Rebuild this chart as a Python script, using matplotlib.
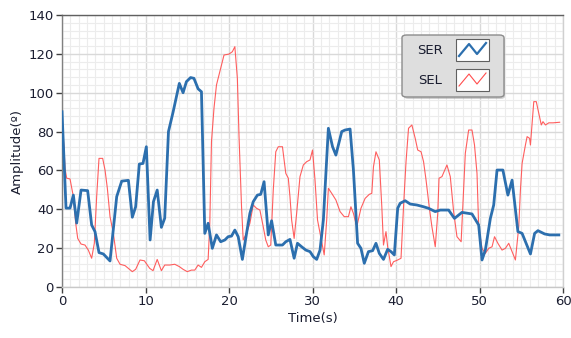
import matplotlib.pyplot as plt
from matplotlib.patches import FancyBboxPatch, Rectangle
from matplotlib.lines import Line2D
from matplotlib.ticker import MultipleLocator

# SER (blue)
ser_t = [0.0, 0.48, 0.96, 1.36, 1.76, 2.28, 3.07, 3.55, 3.95, 4.43, 4.95, 5.75,
         6.55, 7.15, 7.95, 8.42, 8.82, 9.26, 9.7, 10.1, 10.55, 10.95, 11.4, 11.9,
         12.3, 12.75, 13.3, 14.05, 14.5, 14.9, 15.4, 15.8, 16.3, 16.7, 17.1, 17.5,
         18.0, 18.5, 19.0, 19.5, 19.9, 20.3, 20.7, 21.1, 21.6, 22.1, 22.5, 22.9,
         23.4, 23.8, 24.2, 24.7, 25.1, 25.6, 26.4, 26.8, 27.3, 27.8, 28.2, 28.7,
         29.2, 29.7, 30.1, 30.5, 30.9, 31.3, 31.9, 32.4, 32.8, 33.5, 33.9, 34.5,
         34.9, 35.4, 35.8, 36.2, 36.7, 37.2, 37.6, 38.0, 38.5, 39.0, 39.4, 39.8,
         40.2, 40.5, 41.1, 41.7, 42.5, 43.3, 43.9, 44.7, 45.3, 46.3, 47.0, 47.9,
         49.1, 49.9, 50.3, 50.7, 51.3, 51.7, 52.1, 52.8, 53.4, 53.9, 54.6, 55.1,
         56.1, 56.6, 57.0, 57.8, 58.4, 59.5]
ser_v = [90.2, 40.6, 40.6, 47.3, 32.9, 49.9, 49.6, 31.9, 28.5, 17.7, 17.0, 13.4,
         46.5, 54.5, 54.9, 35.9, 41.3, 63.3, 63.6, 72.2, 24.2, 43.9, 49.9, 30.7,
         35.4, 80.0, 90.0, 104.8, 100.0, 105.7, 107.8, 107.4, 102.0, 100.5, 27.6, 32.8,
         19.9, 26.8, 23.3, 24.2, 25.9, 26.2, 29.3, 25.9, 14.2, 27.6, 37.9, 43.9,
         47.3, 47.7, 54.2, 26.8, 34.1, 21.6, 21.6, 23.3, 24.5, 14.8, 22.5, 20.7,
         19.0, 18.2, 15.6, 14.2, 19.0, 34.5, 81.7, 72.2, 67.9, 80.0, 80.8, 81.3,
         60.2, 22.5, 19.9, 12.2, 18.2, 18.7, 22.5, 17.3, 14.2, 19.4, 18.2, 16.5,
         40.5, 43.1, 44.4, 42.7, 42.2, 41.3, 40.5, 38.8, 39.6, 39.6, 35.3, 38.4,
         37.6, 31.9, 13.9, 19.0, 35.3, 42.2, 60.2, 60.2, 47.3, 55.0, 28.5, 27.6,
         17.0, 27.6, 29.0, 27.3, 26.8, 26.8]

# SEL (red)
sel_t = [0.0, 0.24, 0.36, 0.56, 0.96, 1.36, 1.64, 1.88, 2.28, 2.75, 3.15, 3.55,
         3.87, 4.15, 4.43, 4.87, 5.15, 5.43, 5.75, 6.15, 6.55, 6.95, 7.55, 7.95,
         8.42, 8.82, 9.34, 9.86, 10.5, 10.9, 11.4, 11.9, 12.3, 12.9, 13.5, 14.05,
         14.5, 15.0, 15.5, 15.9, 16.3, 16.7, 17.1, 17.5, 17.7, 17.9, 18.2, 18.5,
         18.9, 19.4, 20.0, 20.4, 20.7, 21.0, 21.2, 21.5, 21.7, 22.1, 22.5, 22.9,
         23.3, 23.7, 24.1, 24.4, 24.7, 25.0, 25.3, 25.6, 25.9, 26.4, 26.8, 27.1,
         27.3, 27.5, 27.8, 28.1, 28.5, 28.9, 29.3, 29.7, 30.0, 30.3, 30.6, 31.1,
         31.4, 31.7, 31.9, 32.3, 32.8, 33.3, 33.8, 34.3, 34.6, 34.9, 35.3, 35.8,
         36.3, 36.8, 37.1, 37.3, 37.6, 38.0, 38.3, 38.5, 38.8, 39.0, 39.4, 39.7,
         40.2, 40.6, 40.9, 41.2, 41.5, 41.9, 42.3, 42.6, 43.0, 43.3, 43.6, 44.0,
         44.3, 44.7, 45.0, 45.15, 45.5, 46.1, 46.5, 46.9, 47.3, 47.8, 48.1, 48.3,
         48.7, 49.1, 49.4, 49.7, 49.9, 50.3, 50.7, 51.1, 51.5, 51.8, 52.2, 52.7,
         53.1, 53.5, 53.9, 54.3, 54.7, 54.9, 55.1, 55.5, 55.7, 56.0, 56.1, 56.3,
         56.5, 56.8, 57.1, 57.4, 57.6, 57.9, 58.3, 58.8, 59.6]
sel_v = [85.0, 72.0, 61.0, 56.0, 55.6, 46.5, 32.8, 25.0, 22.1, 21.6, 19.0, 14.8,
         22.5, 46.5, 66.2, 66.2, 60.2, 50.8, 36.2, 27.6, 14.8, 11.7, 11.0, 9.6,
         7.9, 9.1, 13.9, 13.5, 9.6, 8.4, 14.2, 8.4, 11.3, 11.3, 11.7, 10.5,
         9.1, 7.9, 8.7, 8.7, 11.3, 10.1, 13.0, 14.2, 32.8, 74.8, 92.0, 104.0,
         110.8, 119.4, 119.9, 121.1, 123.7, 107.4, 77.4, 41.3, 24.2, 27.6, 32.8, 42.2,
         40.5, 39.6, 31.0, 24.2, 20.7, 21.6, 49.9, 69.6, 72.2, 72.2, 58.5, 56.0,
         46.5, 34.5, 25.0, 37.9, 56.8, 62.8, 64.5, 65.4, 70.5, 55.0, 34.5, 23.3,
         16.5, 34.5, 50.8, 48.2, 44.8, 38.8, 36.2, 36.2, 41.3, 37.9, 31.0, 40.5,
         45.6, 47.7, 48.2, 61.9, 69.6, 65.4, 41.3, 21.6, 28.5, 20.7, 10.5, 13.0,
         13.9, 14.8, 41.3, 64.5, 81.7, 83.4, 76.5, 70.5, 69.6, 64.5, 55.0, 40.5,
         31.0, 20.7, 37.9, 56.0, 56.8, 62.8, 56.8, 38.8, 25.9, 23.3, 49.9, 68.8,
         80.8, 80.8, 73.1, 58.5, 31.0, 19.9, 17.3, 19.9, 20.7, 25.9, 22.5, 19.0,
         19.9, 22.5, 18.2, 13.9, 31.0, 49.9, 63.6, 73.1, 77.4, 76.5, 73.1, 84.2,
         95.4, 95.4, 89.4, 83.4, 85.1, 83.4, 84.5, 84.5, 84.8]

legend_names = ['SER', 'SEL']
ser_color = '#2c6fae'
sel_color = '#ff4d4d'
text_color = '#1a1d30'
fs = 9.5

fig = plt.figure(figsize=(5.71, 3.38), dpi=100)
ax = fig.add_axes([0.1086, 0.1509, 0.8774, 0.8047])

ax.plot(sel_t, sel_v, color=sel_color, lw=0.8, alpha=0.9, zorder=3)
ax.plot(ser_t, ser_v, color=ser_color, lw=2.0, zorder=4)

ax.set_xlim(0, 60)
ax.set_ylim(0, 140)
ax.xaxis.set_major_locator(MultipleLocator(10))
ax.xaxis.set_minor_locator(MultipleLocator(1))
ax.yaxis.set_major_locator(MultipleLocator(20))
ax.yaxis.set_minor_locator(MultipleLocator(4))
ax.grid(which='major', color='#d9d9d9', lw=1.0, zorder=0)
ax.grid(which='minor', color='#ececec', lw=0.8, zorder=0)
ax.set_axisbelow(True)

ax.tick_params(which='major', direction='out', length=4, width=1, color='#404040',
               labelsize=fs, labelcolor=text_color, pad=2)
ax.tick_params(which='minor', length=0)

ax.spines['left'].set_color('#808080')
ax.spines['bottom'].set_color('#c8c8c8')
ax.spines['top'].set_color('#606060')
ax.spines['right'].set_color('#d0d0d0')
for s in ax.spines.values():
    s.set_linewidth(1.0)

ax.set_xlabel('Time(s)', fontsize=fs, color=text_color, labelpad=3)
ax.set_ylabel('Amplitude(º)', fontsize=fs, color=text_color, labelpad=3)

# LabVIEW style legend box, placed in pixel-like figure coords
W, H = 571.0, 338.0
def fx(px):
    return px / W
def fy(py):
    return 1 - py / H

shadow = FancyBboxPatch((fx(404), fy(99)), fx(505) - fx(404), fy(37) - fy(99),
                        boxstyle='round,pad=0,rounding_size=0.008',
                        transform=fig.transFigure, fc='#a0a0a0', ec='none',
                        alpha=0.5, zorder=5)
fig.patches.append(shadow)
box = FancyBboxPatch((fx(402), fy(97)), fx(504) - fx(402), fy(35) - fy(97),
                     boxstyle='round,pad=0,rounding_size=0.008',
                     transform=fig.transFigure, fc='#dedede', ec='#8c8c8c',
                     lw=1.0, zorder=6)
fig.patches.append(box)

for i, (name, col, lw) in enumerate(zip(legend_names, [ser_color, sel_color], [1.6, 0.8])):
    top = 39 + i * 30
    fig.text(fx(430), fy(top + 11), name, fontsize=fs, color=text_color,
             ha='center', va='center', zorder=7)
    sw = Rectangle((fx(456), fy(top + 22)), fx(489) - fx(456), fy(top) - fy(top + 22),
                   transform=fig.transFigure, fc='white', ec='#606060', lw=0.8, zorder=7)
    fig.patches.append(sw)
    zx = [fx(p) for p in [459, 469, 477, 486]]
    zy = [fy(p) for p in [top + 17, top + 5, top + 15, top + 4]]
    fig.lines.append(Line2D(zx, zy, transform=fig.transFigure, color=col, lw=lw, zorder=8))

fig.savefig('out.png', dpi=100)
